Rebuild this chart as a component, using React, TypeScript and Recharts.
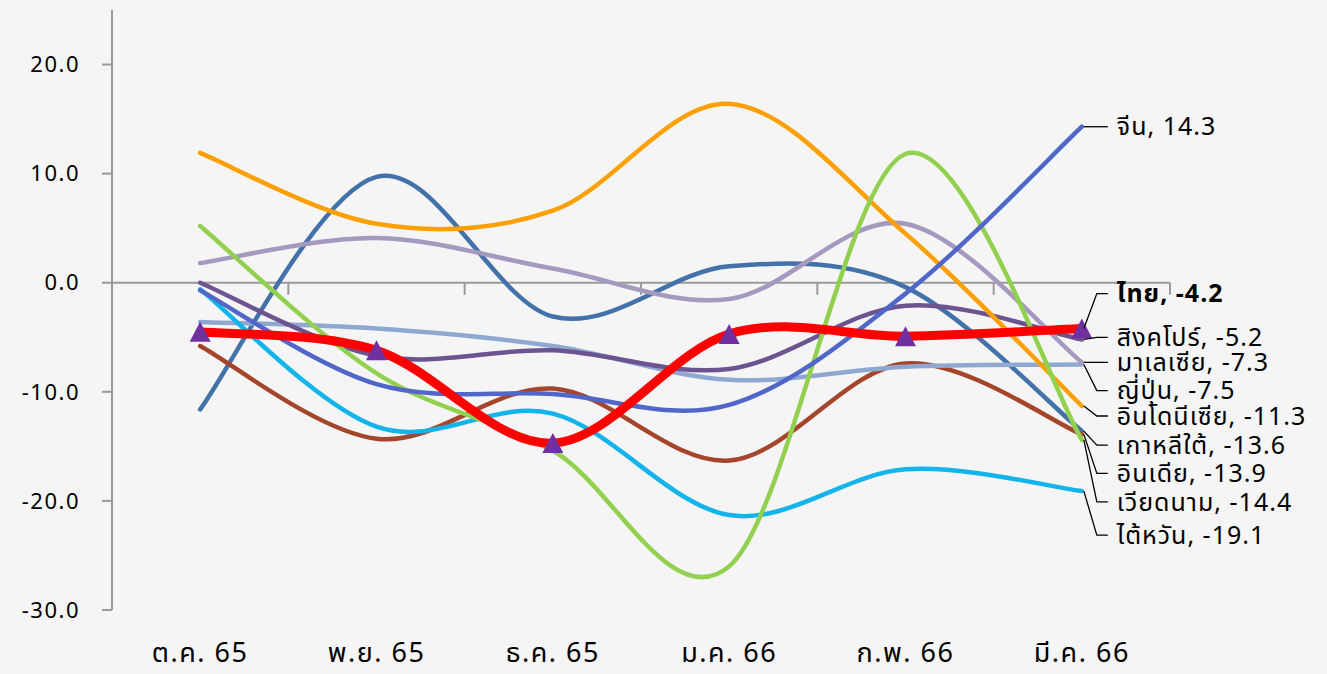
import React from 'react';
import { LineChart, Line, XAxis, YAxis, ReferenceLine, LabelList } from 'recharts';

const months = ['ต.ค. 65', 'พ.ย. 65', 'ธ.ค. 65', 'ม.ค. 66', 'ก.พ. 66', 'มี.ค. 66'];
const yTicks = [-30, -20, -10, 0, 10, 20];

const china = [-0.7, -9.3, -10.2, -11.2, -1.0, 14.3];
const thailand = [-4.5, -6.2, -14.7, -4.7, -4.9, -4.2];
const singapore = [0.0, -6.7, -6.2, -7.9, -2.1, -5.2];
const malaysia = [1.8, 4.1, 1.3, -1.5, 5.4, -7.3];
const japan = [-3.6, -4.2, -5.8, -8.9, -7.7, -7.5];
const indonesia = [11.9, 5.4, 6.6, 16.4, 4.5, -11.3];
const korea = [-11.6, 9.7, -3.1, 1.5, -0.4, -13.6];
const india = [-5.8, -14.3, -9.7, -16.3, -7.4, -13.9];
const vietnam = [5.2, -8.3, -15.4, -26.0, 11.8, -14.4];
const taiwan = [-0.6, -13.2, -12.0, -21.3, -17.1, -19.1];

const seriesNames = {
  china: 'จีน',
  thailand: 'ไทย',
  singapore: 'สิงคโปร์',
  malaysia: 'มาเลเซีย',
  japan: 'ญี่ปุ่น',
  indonesia: 'อินโดนีเซีย',
  korea: 'เกาหลีใต้',
  india: 'อินเดีย',
  vietnam: 'เวียดนาม',
  taiwan: 'ไต้หวัน',
};

const data = months.map((m, i) => ({
  idx: i,
  month: m,
  china: china[i],
  thailand: thailand[i],
  singapore: singapore[i],
  malaysia: malaysia[i],
  japan: japan[i],
  indonesia: indonesia[i],
  korea: korea[i],
  india: india[i],
  vietnam: vietnam[i],
  taiwan: taiwan[i],
}));

// style config (colour, width, label offset in px)
const styles: { key: string; color: string; width: number; labelDy: number; bold?: boolean }[] = [
  { key: 'korea', color: '#4371A9', width: 4.5, labelDy: 14 },
  { key: 'india', color: '#A4452C', width: 4.5, labelDy: 39 },
  { key: 'japan', color: '#8FA8D2', width: 4.5, labelDy: 26 },
  { key: 'singapore', color: '#6C5490', width: 4.5, labelDy: -2 },
  { key: 'malaysia', color: '#A699BF', width: 4.5, labelDy: 0 },
  { key: 'indonesia', color: '#FFA000', width: 4.5, labelDy: 10 },
  { key: 'taiwan', color: '#13B4EB', width: 4.5, labelDy: 44 },
  { key: 'vietnam', color: '#92D050', width: 4.5, labelDy: 62 },
  { key: 'china', color: '#5066C9', width: 4.5, labelDy: 0 },
  { key: 'thailand', color: '#FF0000', width: 9, labelDy: -35, bold: true },
];

const FONT = "'Noto Sans Thai', 'Noto Sans', 'DejaVu Sans', sans-serif";

// Excel-like smoothed line (uniform Catmull-Rom as cubic Bezier)
function excelCurve(context: any) {
  let pts: [number, number][] = [];
  return {
    areaStart() {},
    areaEnd() {},
    lineStart() {
      pts = [];
    },
    lineEnd() {
      const n = pts.length;
      if (!n) return;
      context.moveTo(pts[0][0], pts[0][1]);
      for (let i = 0; i < n - 1; i++) {
        const p0 = pts[Math.max(i - 1, 0)];
        const p1 = pts[i];
        const p2 = pts[i + 1];
        const p3 = pts[Math.min(i + 2, n - 1)];
        const c1x = p1[0] + (p2[0] - p0[0]) / 6;
        const c1y = p1[1] + (p2[1] - p0[1]) / 6;
        const c2x = p2[0] - (p3[0] - p1[0]) / 6;
        const c2y = p2[1] - (p3[1] - p1[1]) / 6;
        context.bezierCurveTo(c1x, c1y, c2x, c2y, p2[0], p2[1]);
      }
    },
    point(x: number, y: number) {
      pts.push([+x, +y]);
    },
  };
}

const renderTriangle = (props: any) => {
  const { cx, cy, index } = props;
  if (cx == null || cy == null) return <g key={`t-${index}`} />;
  const h = 20;
  const w = 21;
  return (
    <path
      key={`t-${index}`}
      d={`M${cx},${cy - h / 2} L${cx + w / 2},${cy + h / 2} L${cx - w / 2},${cy + h / 2} Z`}
      fill="#7030A0"
    />
  );
};

const makeLabel = (key: string, dy: number, bold?: boolean) => (props: any) => {
  const { x, y, index, value } = props;
  if (index !== months.length - 1 || x == null || y == null) return null;
  const ly = y + dy;
  const name = (seriesNames as any)[key];
  return (
    <g key={`lbl-${key}`}>
      <polyline
        points={`${x + 2},${y} ${x + 15},${ly} ${x + 26},${ly}`}
        fill="none"
        stroke="#000"
        strokeWidth={1.3}
      />
      <text
        x={x + 35}
        y={ly}
        dy="0.35em"
        fontSize={25}
        letterSpacing={1}
        fontFamily={FONT}
        fontWeight={bold ? 700 : 400}
        fill="#000"
      >
        {`${name}, ${Number(value).toFixed(1)}`}
      </text>
    </g>
  );
};

const XTick = (props: any) => {
  const { x, y, payload } = props;
  return (
    <text
      x={x}
      y={y + 44}
      textAnchor="middle"
      fontSize={27}
      letterSpacing={1.5}
      fontFamily={FONT}
      fill="#000"
    >
      {months[payload.value]}
    </text>
  );
};

const YTick = (props: any) => {
  const { y, payload } = props;
  return (
    <text
      x={80}
      y={y}
      dy="0.35em"
      textAnchor="end"
      fontSize={22}
      letterSpacing={1.5}
      fontFamily={FONT}
      fill="#000"
    >
      {Number(payload.value).toFixed(1)}
    </text>
  );
};

const boundaries = months.map((_, i) => i + 0.5);

export default function App() {
  return (
    <div style={{ position: 'absolute', left: 0, top: 0, width: 1327, height: 674, background: '#F5F5F5' }}>
      <LineChart
        width={1327}
        height={674}
        data={data}
        margin={{ top: 10, right: 157, left: 0, bottom: 14 }}
      >
        <XAxis
          dataKey="idx"
          type="number"
          domain={[-0.5, 5.5]}
          ticks={[0, 1, 2, 3, 4, 5]}
          axisLine={false}
          tickLine={false}
          height={50}
          tick={<XTick />}
          interval={0}
        />
        <YAxis
          type="number"
          domain={[-30, 25]}
          ticks={yTicks}
          width={112}
          stroke="#9A9A9A"
          strokeWidth={2}
          tickSize={10}
          tick={<YTick />}
          interval={0}
          allowDataOverflow
        />
        <ReferenceLine y={0} stroke="#9A9A9A" strokeWidth={2} />
        {boundaries.map((b) => (
          <ReferenceLine
            key={`b-${b}`}
            segment={[
              { x: b, y: 0 },
              { x: b, y: -1.1 },
            ]}
            stroke="#9A9A9A"
            strokeWidth={2}
          />
        ))}
        {styles.map((s) => (
          <Line
            key={s.key}
            dataKey={s.key}
            type={excelCurve as any}
            stroke={s.color}
            strokeWidth={s.width}
            strokeLinecap="round"
            dot={s.key === 'thailand' ? renderTriangle : false}
            activeDot={false}
            isAnimationActive={false}
          >
            <LabelList dataKey={s.key} content={makeLabel(s.key, s.labelDy, s.bold)} />
          </Line>
        ))}
      </LineChart>
    </div>
  );
}
